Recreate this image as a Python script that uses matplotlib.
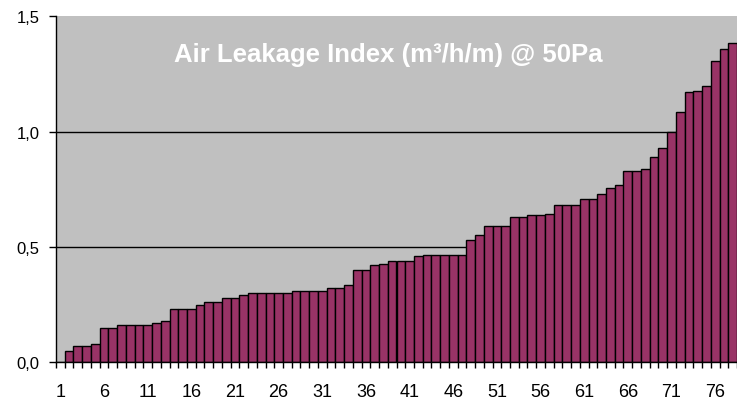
import matplotlib

matplotlib.use("Agg")
import matplotlib.pyplot as plt  # noqa: E402
import numpy as np  # noqa: E402

plt.rcParams["font.family"] = ["Liberation Sans", "DejaVu Sans"]

# air leakage index per building, sorted ascending (m3/h/m @ 50Pa)
leakage = [
    0.0, 0.05, 0.07, 0.07, 0.08, 0.15, 0.15, 0.16, 0.16, 0.16,
    0.16, 0.17, 0.18, 0.23, 0.23, 0.23, 0.25, 0.26, 0.26, 0.28,
    0.28, 0.29, 0.30, 0.30, 0.30, 0.30, 0.30, 0.31, 0.31, 0.31,
    0.31, 0.32, 0.32, 0.335, 0.40, 0.40, 0.42, 0.425, 0.44, 0.44,
    0.44, 0.46, 0.465, 0.465, 0.465, 0.465, 0.465, 0.53, 0.55, 0.59,
    0.59, 0.59, 0.63, 0.63, 0.64, 0.64, 0.645, 0.68, 0.68, 0.68,
    0.71, 0.71, 0.73, 0.755, 0.77, 0.83, 0.83, 0.84, 0.89, 0.93,
    1.0, 1.085, 1.17, 1.175, 1.2, 1.305, 1.36, 1.385,
]
building = np.arange(1, len(leakage) + 1)
label_every = 5
y_ticks = [0.0, 0.5, 1.0, 1.5]
y_labels = ["0,0", "0,5", "1,0", "1,5"]
title = "Air Leakage Index (m³/h/m) @ 50Pa"

fig = plt.figure(figsize=(7.37, 4.02), dpi=100)
ax = fig.add_axes([56 / 737, 1 - 363.3 / 402, 1 - 56 / 737, (363.3 - 17.3) / 402])
ax.set_facecolor("#C0C0C0")

ax.bar(building, leakage, width=1.0, color="#993366", edgecolor="black",
       linewidth=1.0, zorder=3)

for y in y_ticks[1:3]:
    ax.axhline(y, color="black", linewidth=1.0, zorder=1)

ax.set_xlim(0.5, 0.5 + 681 / 8.82)
ax.set_ylim(0, 1.5)

ax.set_yticks(y_ticks)
ax.set_yticklabels(y_labels, fontsize=12)
ax.tick_params(axis="y", direction="out", length=5, width=1, color="black", pad=7)

# category boundaries get the tick marks, every 5th category the label
ax.set_xticks(np.arange(0.5, len(leakage) + 1, 1.0))
ax.set_xticklabels([])
ax.tick_params(axis="x", which="major", direction="out", length=4.5, width=1)
ax.set_xticks(building[::label_every], minor=True)
ax.set_xticklabels([str(b) for b in building[::label_every]], minor=True, fontsize=13)
ax.tick_params(axis="x", which="minor", length=0, pad=15)

for side in ("top", "right"):
    ax.spines[side].set_visible(False)
ax.spines["left"].set_linewidth(1.0)
ax.spines["bottom"].set_linewidth(1.0)
ax.spines["bottom"].set_zorder(4)

fig.text(388 / 737, 1 - 55 / 402, title, ha="center", va="center",
         color="white", fontsize=18.5, fontweight="bold")

fig.savefig("out.png", dpi=100)
